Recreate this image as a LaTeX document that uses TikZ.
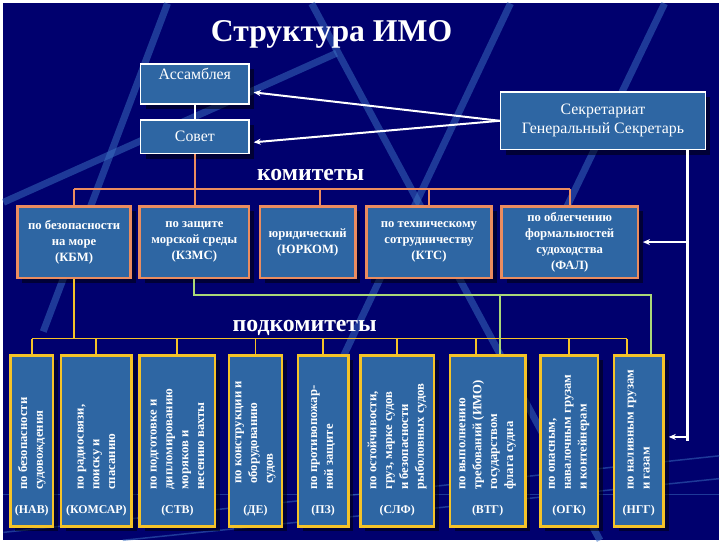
\documentclass[tikz,border=0pt]{standalone}
\usepackage{fontspec}
\setmainfont{Liberation Serif}
\usetikzlibrary{arrows.meta,shadows,calc}
\definecolor{bgnavy}{RGB}{0,0,110}
\definecolor{boxblue}{RGB}{46,102,163}
\definecolor{comorange}{RGB}{235,140,95}
\definecolor{subyellow}{RGB}{245,195,40}
\definecolor{lgreen}{RGB}{170,215,120}
\definecolor{streak}{RGB}{60,115,195}

\begin{document}
\begin{tikzpicture}[x=1bp,y=-1bp,
    topbox/.style={draw=white,line width=1.5bp,fill=boxblue,text=white,align=center,
                   font=\fontsize{16}{19}\selectfont,
                   drop shadow={shadow xshift=5bp,shadow yshift=-5bp,fill=black,opacity=.5}},
    combox/.style={draw=comorange,line width=2.5bp,fill=boxblue,text=white,align=center,
                   minimum height=72bp,font=\fontsize{12.8}{16}\selectfont\bfseries,
                   drop shadow={shadow xshift=5bp,shadow yshift=-5bp,fill=black,opacity=.5}},
    subbox/.style={draw=subyellow,line width=2.5bp,fill=boxblue,minimum height=172bp,
                   drop shadow={shadow xshift=5bp,shadow yshift=-5bp,fill=black,opacity=.5}},
    subtxt/.style={rotate=90,anchor=west,align=left,inner sep=0pt,xshift=4bp,text=white,
                   font=\fontsize{12.8}{16}\selectfont\bfseries},
    abbr/.style={text=white,inner sep=0pt,font=\fontsize{12}{14}\selectfont\bfseries},
    sect/.style={text=white,font=\fontsize{24}{28}\selectfont\bfseries},
    warr/.style={white,line width=2bp,-{Stealth[length=7bp,width=6bp]},shorten >=4bp},
    oline/.style={comorange,line width=2bp},
    yline/.style={subyellow,line width=2bp},
    gline/.style={lgreen,line width=2bp}
  ]

  %% background
  \fill[bgnavy] (0,0) rectangle (720,540);
  \begin{scope}[streak,opacity=.5,line width=7bp]
    \draw (0,200) -- (335,50);
    \draw (165,0) -- (40,330);
    \draw (310,0) -- (600,540);
    \draw (510,0) -- (330,380);
    \draw (665,0) -- (540,260);
  \end{scope}
  \begin{scope}[streak,opacity=.5,line width=1.5bp]
    \draw (0,494) -- (720,494);
    \draw (0,532) -- (720,455);
    \draw (120,540) -- (720,478);
  \end{scope}

  %% title
  \node[text=white,font=\fontsize{32}{36}\selectfont\bfseries] (ttl) at (330,31) {Структура ИМО};

  %% top boxes
  \node[topbox,minimum width=109bp,minimum height=40bp,text depth=21bp,inner ysep=4bp,anchor=north]
      (asm) at (192.5,60) {Ассамблея};
  \node[topbox,minimum width=109bp,minimum height=34bp] (sov) at (192.5,134) {Совет};
  \node[topbox,minimum width=206bp,minimum height=58bp] (sec) at (603,118)
      {Секретариат\\Генеральный Секретарь};

  \draw[white,line width=1.5bp] (asm) -- (sov);
  \draw[warr] (sec.west) -- ([yshift=-8bp]asm.east);
  \draw[warr] (sec.west) -- ([yshift=-6bp]sov.east);

  %% committees
  \node[sect] (komlbl) at (309,173) {комитеты};
  \node[combox,minimum width=114bp] (kbm)  at (71,240)    {по безопасности\\на море\\(КБМ)};
  \node[combox,minimum width=110bp] (kzms) at (192,240)   {по защите\\морской среды\\(КЗМС)};
  \node[combox,minimum width=96bp]  (jur)  at (306,240)   {юридический\\(ЮРКОМ)};
  \node[combox,minimum width=126bp] (kts)  at (428,240)   {по техническому\\сотрудничеству\\(КТС)};
  \node[combox,minimum width=137bp] (fal)  at (569.5,240) {по облегчению\\формальностей\\судоходства\\(ФАЛ)};

  \coordinate (cbus) at (0,187);
  \coordinate (jurt) at ([xshift=12bp]jur.north);
  \draw[oline] (kbm.north |- cbus) -- (fal.north |- cbus);
  \draw[oline] (sov.south) -- (sov.south |- kzms.north);
  \draw[oline] (kbm.north) -- (kbm.north |- cbus);
  \draw[oline] (jurt) -- (jurt |- cbus);
  \draw[oline] (kts.north) -- (kts.north |- cbus);
  \draw[oline] (fal.north) -- (fal.north |- cbus);

  %% subcommittees
  \node[sect] (podlbl) at (303,326) {подкомитеты};
  \node[subbox,minimum width=43bp] (nav)    at (28.5,440) {};
  \node[subbox,minimum width=71bp] (komsar) at (93.5,440) {};
  \node[subbox,minimum width=76bp] (stv)    at (175,440)  {};
  \node[subbox,minimum width=53bp] (de)     at (253.5,440) {};
  \node[subbox,minimum width=51bp] (pz)     at (321.5,440) {};
  \node[subbox,minimum width=74bp] (slf)    at (396,440)  {};
  \node[subbox,minimum width=76bp] (vtg)    at (487,440)  {};
  \node[subbox,minimum width=58bp] (ogk)    at (569,440)  {};
  \node[subbox,minimum width=50bp] (ngg)    at (639,440)  {};

  \node[subtxt] (navt)    at ([yshift=34bp]nav.south)    {по безопасности\\судовождения};
  \node[subtxt] (komsart) at ([yshift=34bp]komsar.south) {по радиосвязи,\\поиску и\\спасанию};
  \node[subtxt] (stvt)    at ([yshift=34bp]stv.south)    {по подготовке и\\дипломированию\\моряков и\\несению вахты};
  \node[subtxt,xshift=6bp] (det) at ([yshift=34bp]de.south) {по конструкции и\\оборудованию\\судов};
  \node[subtxt] (pzt)     at ([yshift=34bp]pz.south)     {по противопожар-\\ной защите};
  \node[subtxt] (slft)    at ([yshift=34bp]slf.south)    {по остойчивости,\\груз, марке судов\\и безопасности\\рыболовных судов};
  \node[subtxt] (vtgt)    at ([yshift=34bp]vtg.south)    {по выполнению\\требований (ИМО)\\государством\\флага судна};
  \node[subtxt] (ogkt)    at ([yshift=34bp]ogk.south)    {по опасным,\\навалочным грузам\\и контейнерам};
  \node[subtxt] (nggt)    at ([yshift=34bp]ngg.south)    {по наливным грузам\\и газам};

  \node[abbr] (nava)    at ([yshift=17bp]nav.south)    {(НАВ)};
  \node[abbr] (komsara) at ([yshift=17bp]komsar.south) {(КОМСАР)};
  \node[abbr] (stva)    at ([yshift=17bp]stv.south)    {(СТВ)};
  \node[abbr] (dea)     at ([yshift=17bp]de.south)     {(ДЕ)};
  \node[abbr] (pza)     at ([yshift=17bp]pz.south)     {(ПЗ)};
  \node[abbr] (slfa)    at ([yshift=17bp]slf.south)    {(СЛФ)};
  \node[abbr] (vtga)    at ([yshift=17bp]vtg.south)    {(ВТГ)};
  \node[abbr] (ogka)    at ([yshift=17bp]ogk.south)    {(ОГК)};
  \node[abbr] (ngga)    at ([yshift=17bp]ngg.south)    {(НГГ)};

  %% yellow links (from КБМ)
  \coordinate (ybus) at (0,337);
  \coordinate (vtgy) at ([xshift=-12bp]vtg.north);
  \coordinate (nggy) at ([xshift=-12bp]ngg.north);
  \draw[yline] (kbm.south) -- (kbm.south |- ybus);
  \draw[yline] (nav.north |- ybus) -- (nggy |- ybus);
  \draw[yline] (nav.north) -- (nav.north |- ybus);
  \draw[yline] (komsar.north) -- (komsar.north |- ybus);
  \draw[yline] (stv.north) -- (stv.north |- ybus);
  \draw[yline] (de.north) -- (de.north |- ybus);
  \draw[yline] (pz.north) -- (pz.north |- ybus);
  \draw[yline] (slf.north) -- (slf.north |- ybus);
  \draw[yline] (vtgy) -- (vtgy |- ybus);
  \draw[yline] (ogk.north) -- (ogk.north |- ybus);
  \draw[yline] (nggy) -- (nggy |- ybus);

  %% green links (from КЗМС)
  \coordinate (gbus) at (0,293);
  \coordinate (vtgg) at ([xshift=12bp]vtg.north);
  \coordinate (nggg) at ([xshift=12bp]ngg.north);
  \draw[gline] (kzms.south) |- (nggg |- gbus) -- (nggg);
  \draw[gline] (vtgg |- gbus) -- (vtgg);

  %% secretariat links
  \coordinate (secdn) at ([xshift=85bp]sec.south);
  \draw[white,line width=2.5bp] (secdn) -- (secdn |- ngg.east);
  \draw[warr] (secdn |- fal.east) -- (fal.east);
  \draw[warr] ([yshift=4bp]secdn |- ngg.east) -- ([yshift=4bp]ngg.east);

\end{tikzpicture}
\end{document}
